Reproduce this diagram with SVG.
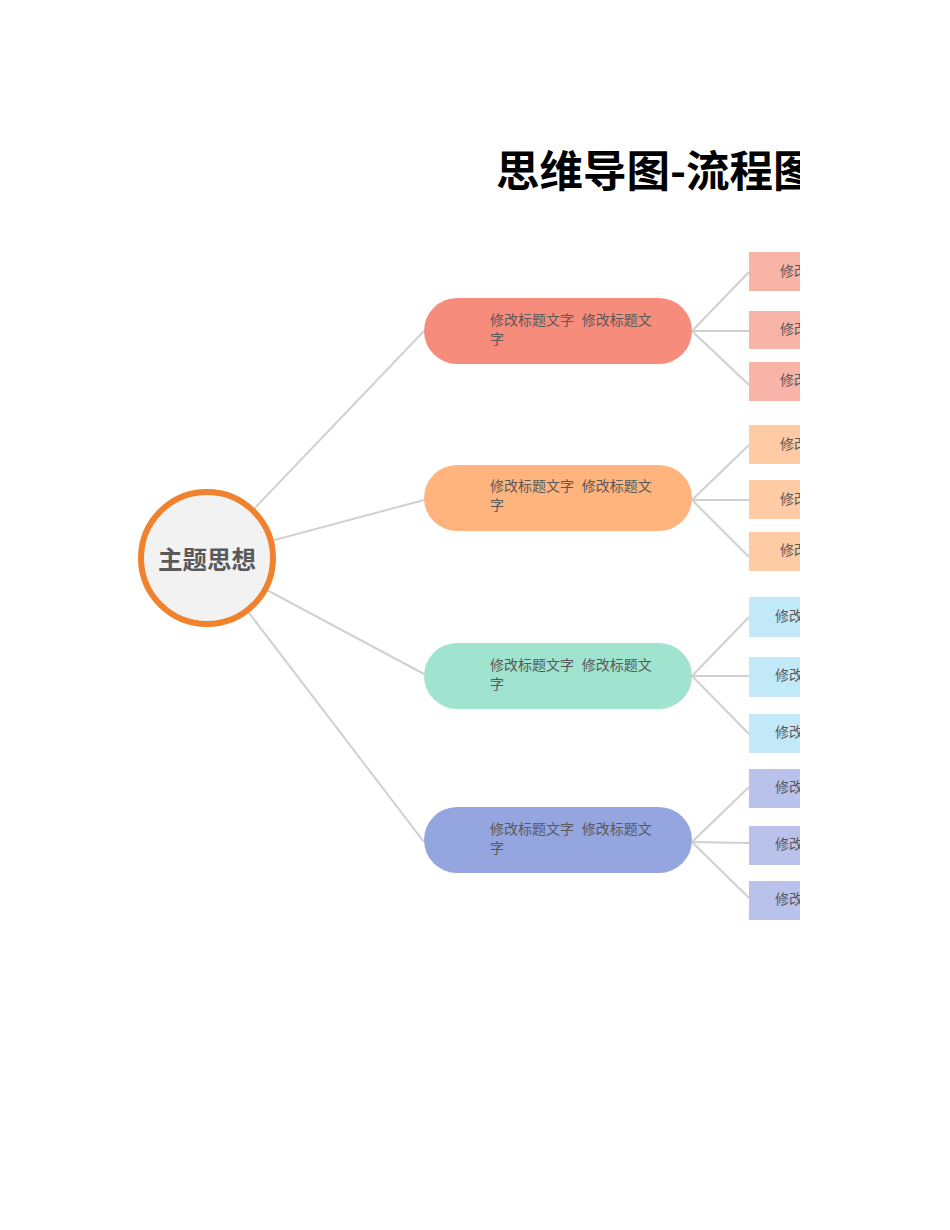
<svg xmlns="http://www.w3.org/2000/svg" width="950" height="1230" viewBox="0 0 950 1230">
<defs>
<clipPath id="clip"><rect x="0" y="0" width="800" height="1230"/></clipPath>
<style>
.t{font-family:"Liberation Sans","Noto Sans CJK SC",sans-serif;fill:#595959;font-size:14px;white-space:pre}
.title{font-family:"Noto Sans CJK SC",sans-serif;font-weight:bold;font-size:43.5px;fill:#000}
.main{font-family:"Noto Sans CJK SC",sans-serif;font-weight:bold;font-size:24.5px;fill:#595959}
.ln{stroke:#D0D0D0;stroke-width:2;fill:none}
</style>
</defs>
<rect width="950" height="1230" fill="#fff"/>
<g clip-path="url(#clip)">
<text class="title" x="496" y="187">思维导图-流程图</text>
<g id="connectors">
<line class="ln" x1="207" y1="558" x2="424" y2="331"/>
<line class="ln" x1="207" y1="558" x2="424" y2="500"/>
<line class="ln" x1="207" y1="558" x2="424" y2="674"/>
<line class="ln" x1="207" y1="558" x2="424" y2="842"/>
<line class="ln" x1="692" y1="331" x2="749" y2="272"/>
<line class="ln" x1="692" y1="331" x2="749" y2="331"/>
<line class="ln" x1="692" y1="331" x2="749" y2="385"/>
<line class="ln" x1="692" y1="500" x2="749" y2="445"/>
<line class="ln" x1="692" y1="500" x2="749" y2="500"/>
<line class="ln" x1="692" y1="500" x2="749" y2="557"/>
<line class="ln" x1="692" y1="676" x2="749" y2="617"/>
<line class="ln" x1="692" y1="676" x2="749" y2="676"/>
<line class="ln" x1="692" y1="676" x2="749" y2="734"/>
<line class="ln" x1="692" y1="842" x2="749" y2="787"/>
<line class="ln" x1="692" y1="842" x2="749" y2="843"/>
<line class="ln" x1="692" y1="842" x2="749" y2="898"/>
</g>
<g id="center">
<circle cx="207" cy="558" r="66" fill="#F2F2F2" stroke="#F0822D" stroke-width="6"/>
<text class="main" x="207" y="569" text-anchor="middle">主题思想</text>
</g>
<g id="branch1">
<rect x="424" y="298" width="268" height="66" rx="33" fill="#F68C7C"/>
<text class="t" x="490" y="325">修改标题文字  修改标题文</text>
<text class="t" x="490" y="344">字</text>
</g>
<g id="branch2">
<rect x="424" y="465" width="268" height="66" rx="33" fill="#FFB47D"/>
<text class="t" x="490" y="491">修改标题文字  修改标题文</text>
<text class="t" x="490" y="510">字</text>
</g>
<g id="branch3">
<rect x="424" y="643" width="268" height="66" rx="33" fill="#A0E4CF"/>
<text class="t" x="490" y="670">修改标题文字  修改标题文</text>
<text class="t" x="490" y="689">字</text>
</g>
<g id="branch4">
<rect x="424" y="807" width="268" height="66" rx="33" fill="#95A5DF"/>
<text class="t" x="490" y="834">修改标题文字  修改标题文</text>
<text class="t" x="490" y="853">字</text>
</g>
<g id="leaf1a"><rect x="749" y="252" width="60" height="39" fill="#F9B4A8"/><text class="t" x="780" y="276">修改</text></g>
<g id="leaf1b"><rect x="749" y="311" width="60" height="38" fill="#F9B4A8"/><text class="t" x="780" y="334">修改</text></g>
<g id="leaf1c"><rect x="749" y="362" width="60" height="39" fill="#F9B4A8"/><text class="t" x="780" y="385">修改</text></g>
<g id="leaf2a"><rect x="749" y="425" width="60" height="39" fill="#FFCBA4"/><text class="t" x="780" y="449">修改</text></g>
<g id="leaf2b"><rect x="749" y="480" width="60" height="39" fill="#FFCBA4"/><text class="t" x="780" y="504">修改</text></g>
<g id="leaf2c"><rect x="749" y="532" width="60" height="39" fill="#FFCBA4"/><text class="t" x="780" y="555">修改</text></g>
<g id="leaf3a"><rect x="749" y="597" width="60" height="40" fill="#C2E9F8"/><text class="t" x="775" y="621">修改</text></g>
<g id="leaf3b"><rect x="749" y="657" width="60" height="40" fill="#C2E9F8"/><text class="t" x="775" y="680">修改</text></g>
<g id="leaf3c"><rect x="749" y="714" width="60" height="39" fill="#C2E9F8"/><text class="t" x="775" y="737">修改</text></g>
<g id="leaf4a"><rect x="749" y="769" width="60" height="39" fill="#B8C2EA"/><text class="t" x="775" y="792">修改</text></g>
<g id="leaf4b"><rect x="749" y="826" width="60" height="39" fill="#B8C2EA"/><text class="t" x="775" y="849">修改</text></g>
<g id="leaf4c"><rect x="749" y="881" width="60" height="39" fill="#B8C2EA"/><text class="t" x="775" y="904">修改</text></g>
</g>
</svg>
